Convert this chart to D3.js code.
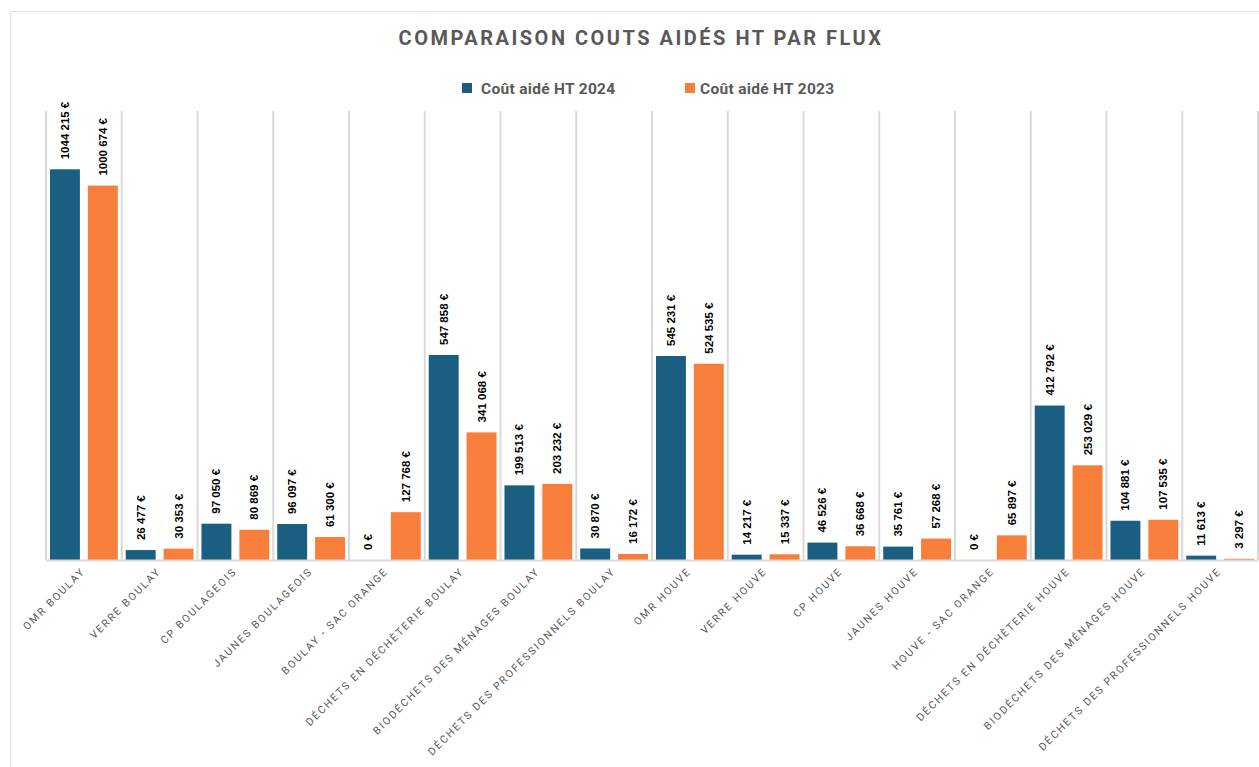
<!DOCTYPE html>
<html>
<head>
<meta charset="utf-8">
<script src="https://cdn.jsdelivr.net/npm/d3@7"></script>
<style>
    body { margin: 0; background: #fff; }
    svg { display: block; }
</style>
</head>
<body>
<svg id="chart" width="1259" height="767"></svg>
<script>
const categories = [
    "OMR BOULAY", "VERRE BOULAY", "CP BOULAGEOIS", "JAUNES BOULAGEOIS",
    "BOULAY - SAC ORANGE", "DÉCHETS EN DÉCHÈTERIE BOULAY", "BIODÉCHETS DES MÉNAGES BOULAY",
    "DÉCHETS DES PROFESSIONNELS BOULAY", "OMR HOUVE", "VERRE HOUVE", "CP HOUVE",
    "JAUNES HOUVE", "HOUVE - SAC ORANGE", "DÉCHETS EN DÉCHÈTERIE HOUVE",
    "BIODÉCHETS DES MÉNAGES HOUVE", "DÉCHETS DES PROFESSIONNELS HOUVE"
];
const series = ["Coût aidé HT 2024", "Coût aidé HT 2023"];
const values2024 = [1044215, 26477, 97050, 96097, 0, 547858, 199513, 30870, 545231, 14217, 46526, 35761, 0, 412792, 104881, 11613];
const values2023 = [1000674, 30353, 80869, 61300, 127768, 341068, 203232, 16172, 524535, 15337, 36668, 57268, 65897, 253029, 107535, 3297];
const colors = ["#1a5e82", "#f77f3b"];
const yMax = 1200000;

const svg = d3.select('#chart');

const PLOT_LEFT = 46;
const PLOT_RIGHT = 1258;
const PLOT_TOP = 111;
const PLOT_BOTTOM = 560;

const rows = categories.map((c, i) => ({cat: c, vals: [values2024[i], values2023[i]]}));

const x0 = d3.scaleBand().domain(categories).range([PLOT_LEFT, PLOT_RIGHT]).padding(0);
const x1 = d3.scaleBand().domain(series).range([0, x0.bandwidth()])
    .paddingInner(0.21).paddingOuter(0.105);
const y = d3.scaleLinear().domain([0, yMax]).range([PLOT_BOTTOM, PLOT_TOP]);

function euro(v) {
    const k = Math.floor(v / 1000);
    const r = v % 1000;
    if (k === 0) return r + ' €';
    return k + ' ' + String(r).padStart(3, '0') + ' €';
}

// outer frame
svg.append('line').attr('x1', 10.5).attr('x2', 10.5).attr('y1', 11).attr('y2', 767)
    .attr('stroke', '#e3e3e3').attr('stroke-width', 1);
svg.append('line').attr('x1', 10).attr('x2', 1259).attr('y1', 11.5).attr('y2', 11.5)
    .attr('stroke', '#e3e3e3').attr('stroke-width', 1);

// title
svg.append('text')
    .text("COMPARAISON COUTS AIDÉS HT PAR FLUX")
    .attr('x', 641)
    .attr('y', 45)
    .attr('text-anchor', 'middle')
    .attr('font-family', 'Roboto, "Liberation Sans", sans-serif')
    .attr('font-size', 20)
    .attr('font-weight', 700)
    .attr('letter-spacing', 2.5)
    .attr('fill', '#595959');

// legend
const legendX = [462, 685];
series.forEach((s, i) => {
    svg.append('rect')
        .attr('x', legendX[i]).attr('y', 83)
        .attr('width', 10).attr('height', 10)
        .attr('fill', colors[i]);
    svg.append('text')
        .text(s)
        .attr('x', legendX[i] + (i === 0 ? 19 : 15)).attr('y', 93.5)
        .attr('font-family', 'Roboto, "Liberation Sans", sans-serif')
        .attr('font-size', 15.5)
        .attr('font-weight', 700)
        .attr('letter-spacing', 0.3)
        .attr('fill', '#595959');
});

// vertical category separators
const bounds = categories.map(c => x0(c)).concat([PLOT_RIGHT]);
svg.append('g').selectAll('line')
    .data(bounds)
    .join('line')
    .attr('x1', d => d).attr('x2', d => d)
    .attr('y1', PLOT_TOP).attr('y2', PLOT_BOTTOM)
    .attr('stroke', '#d9d9d9').attr('stroke-width', 2);

// bars
const groups = svg.append('g').selectAll('g')
    .data(rows)
    .join('g')
    .attr('transform', d => `translate(${x0(d.cat)},0)`);

groups.selectAll('rect')
    .data(d => d.vals.map((v, i) => ({s: series[i], v: v, i: i})))
    .join('rect')
    .attr('x', d => x1(d.s))
    .attr('y', d => y(d.v))
    .attr('width', x1.bandwidth())
    .attr('height', d => PLOT_BOTTOM - y(d.v))
    .attr('fill', d => colors[d.i]);

// value labels
groups.selectAll('text')
    .data(d => d.vals.map((v, i) => ({s: series[i], v: v, i: i})))
    .join('text')
    .text(d => euro(d.v))
    .attr('transform', d => `translate(${x1(d.s) + x1.bandwidth() / 2 + 4},${y(d.v) - 10}) rotate(-90)`)
    .attr('text-anchor', 'start')
    .attr('font-family', '"Liberation Sans Narrow", "Liberation Sans", Arial, sans-serif')
    .attr('font-size', 11.5)
    .attr('font-weight', 700)
    .attr('fill', '#000');

// baseline
svg.append('line')
    .attr('x1', PLOT_LEFT).attr('x2', PLOT_RIGHT)
    .attr('y1', PLOT_BOTTOM + 0.5).attr('y2', PLOT_BOTTOM + 0.5)
    .attr('stroke', '#d9d9d9').attr('stroke-width', 2);

// category labels
svg.append('g').selectAll('text')
    .data(categories)
    .join('text')
    .text(d => d)
    .attr('transform', d => `translate(${x0(d) + x0.bandwidth() / 2 + 2},${PLOT_BOTTOM + 12}) rotate(-45)`)
    .attr('text-anchor', 'end')
    .attr('font-family', 'Roboto, "Liberation Sans", sans-serif')
    .attr('font-size', 10.5)
    .attr('letter-spacing', 1.85)
    .attr('fill', '#595959');
</script>
</body>
</html>
